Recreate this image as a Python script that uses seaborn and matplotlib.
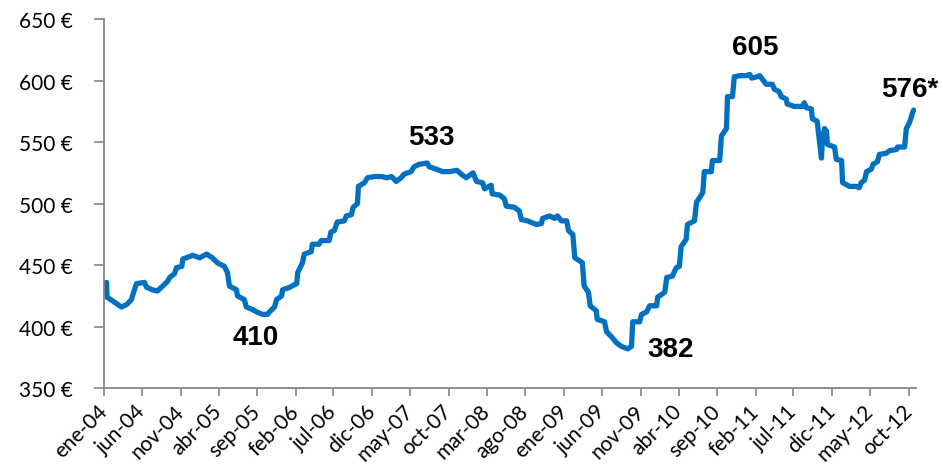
import matplotlib
matplotlib.use("Agg")
import matplotlib.pyplot as plt
import numpy as np
import pandas as pd
import seaborn as sns

# Weekly price series, Jan 2004 - Oct 2012 (EUR)
fechas = [
    "2004-01-12", "2004-01-14", "2004-02-05", "2004-03-11", "2004-04-01", "2004-04-20",
    "2004-04-24", "2004-05-10", "2004-06-11", "2004-06-19", "2004-07-12", "2004-08-01",
    "2004-08-22", "2004-09-11", "2004-09-19", "2004-10-08", "2004-10-16", "2004-11-06",
    "2004-11-10", "2004-12-07", "2004-12-19", "2005-01-16", "2005-02-13", "2005-03-07",
    "2005-03-27", "2005-04-24", "2005-05-06", "2005-05-14", "2005-06-11", "2005-06-15",
    "2005-07-12", "2005-07-20", "2005-08-13", "2005-08-30", "2005-09-22", "2005-10-12",
    "2005-10-20", "2005-11-09", "2005-11-17", "2005-12-07", "2005-12-11", "2006-01-08",
    "2006-02-05", "2006-02-09", "2006-02-28", "2006-03-07", "2006-04-04", "2006-04-08",
    "2006-05-05", "2006-05-13", "2006-06-14", "2006-06-21", "2006-07-04", "2006-07-16",
    "2006-08-13", "2006-08-21", "2006-09-10", "2006-09-17", "2006-10-04", "2006-10-08",
    "2006-11-01", "2006-11-13", "2006-12-10", "2007-01-08", "2007-01-28", "2007-02-17",
    "2007-03-07", "2007-03-26", "2007-04-08", "2007-05-05", "2007-05-17", "2007-06-07",
    "2007-07-08", "2007-07-16", "2007-08-13", "2007-09-07", "2007-10-04", "2007-11-03",
    "2007-11-20", "2007-12-10", "2008-01-06", "2008-01-20", "2008-02-13", "2008-02-21",
    "2008-03-18", "2008-03-22", "2008-04-20", "2008-05-09", "2008-05-17", "2008-06-18",
    "2008-07-08", "2008-07-16", "2008-08-09", "2008-09-14", "2008-10-04", "2008-10-08",
    "2008-11-05", "2008-11-25", "2008-12-06", "2008-12-22", "2009-01-12", "2009-01-19",
    "2009-02-05", "2009-02-13", "2009-03-15", "2009-03-22", "2009-04-08", "2009-04-15",
    "2009-05-09", "2009-05-13", "2009-06-11", "2009-06-19", "2009-07-12", "2009-07-28",
    "2009-08-17", "2009-09-11", "2009-09-26", "2009-10-01", "2009-10-28", "2009-11-05",
    "2009-11-25", "2009-12-07", "2010-01-04", "2010-01-08", "2010-02-05", "2010-02-13",
    "2010-03-07", "2010-03-23", "2010-04-04", "2010-04-11", "2010-05-01", "2010-05-06",
    "2010-06-03", "2010-06-11", "2010-07-06", "2010-07-12", "2010-08-09", "2010-08-13",
    "2010-09-11", "2010-09-18", "2010-10-08", "2010-10-12", "2010-11-01", "2010-11-08",
    "2010-11-29", "2010-12-26", "2011-01-08", "2011-01-16", "2011-02-05", "2011-02-17",
    "2011-02-28", "2011-03-15", "2011-04-08", "2011-04-16", "2011-05-05", "2011-05-13",
    "2011-06-02", "2011-06-06", "2011-07-04", "2011-08-05", "2011-08-13", "2011-08-21",
    "2011-09-10", "2011-09-14", "2011-10-03", "2011-10-20", "2011-10-24", "2011-11-01",
    "2011-11-09", "2011-11-13", "2011-12-11", "2011-12-18", "2012-01-08", "2012-01-12",
    "2012-02-09", "2012-03-06", "2012-03-18", "2012-03-26", "2012-04-08", "2012-04-16",
    "2012-05-05", "2012-05-12", "2012-05-29", "2012-06-06", "2012-07-04", "2012-07-16",
    "2012-08-13", "2012-08-17", "2012-09-14", "2012-09-21", "2012-10-04", "2012-10-16",
    "2012-10-20",
]
precios = [
    436, 424, 421, 416, 418, 422,
    425, 435, 436, 432, 430, 429,
    433, 437, 440, 443, 448, 449,
    455, 457, 458, 456, 459, 456,
    452, 449, 444, 433, 430, 425,
    422, 416, 414, 412, 410, 410,
    412, 416, 422, 425, 430, 432,
    435, 444, 452, 459, 461, 467,
    467, 470, 470, 477, 478, 485,
    486, 490, 491, 497, 500, 514,
    517, 521, 522, 522, 521, 522,
    518, 521, 524, 526, 530, 532,
    533, 530, 528, 526, 526, 527,
    524, 521, 525, 518, 517, 512,
    515, 508, 507, 504, 498, 497,
    494, 487, 486, 483, 484, 488,
    490, 488, 490, 486, 486, 478,
    475, 456, 452, 433, 428, 417,
    413, 406, 404, 396, 391, 387,
    384, 382, 384, 404, 404, 410,
    412, 417, 417, 424, 428, 440,
    441, 448, 449, 465, 471, 483,
    486, 501, 509, 526, 526, 535,
    535, 555, 561, 587, 587, 603,
    604, 604, 605, 602, 603, 604,
    601, 597, 597, 593, 591, 587,
    585, 581, 579, 579, 582, 578,
    577, 569, 567, 537, 552, 561,
    559, 548, 546, 536, 535, 517,
    514, 514, 513, 517, 519, 526,
    528, 532, 534, 540, 541, 543,
    544, 546, 546, 561, 566, 574,
    576,
]

# Highlighted values: (date, value, label, offset in points)
destacados_fecha = ["2005-09-22", "2007-07-08", "2009-09-11", "2011-01-08", "2012-10-20"]
destacados_valor = [410, 533, 382, 605, 576]
destacados_texto = ["410", "533", "382", "605", "576*"]
destacados_desp = [(-5, -16), (3, 19), (31, 0), (4, 20), (-3, 15)]

meses_es = ["ene", "feb", "mar", "abr", "may", "jun",
            "jul", "ago", "sep", "oct", "nov", "dic"]

df = pd.DataFrame({"fecha": pd.to_datetime(fechas), "precio": precios})

sns.set_style("ticks")
plt.rcParams["font.family"] = ["Lato", "DejaVu Sans"]

fig = plt.figure(figsize=(9.43, 4.77), dpi=100)
ax = fig.add_axes([0.110, 0.184, 0.861, 0.774])

azul = "#0070C0"
sns.lineplot(data=df, x="fecha", y="precio", ax=ax, color=azul,
             linewidth=3.8, solid_joinstyle="round", solid_capstyle="round")

ax.set_ylim(350, 650)
ax.set_yticks(np.arange(350, 651, 50))
ax.set_yticklabels([f"{v} €" for v in range(350, 651, 50)])

ax.set_xlim(pd.Timestamp("2004-01-01"), pd.Timestamp("2012-10-28"))
ticks = pd.date_range("2004-01-01", "2012-10-01", freq="5MS")
ax.set_xticks(ticks)
ax.set_xticklabels([f"{meses_es[t.month - 1]}-{t.year % 100:02d}" for t in ticks],
                   rotation=45, ha="right", va="center", rotation_mode="anchor")

gris = "#868686"
for s in ["top", "right"]:
    ax.spines[s].set_visible(False)
for s in ["left", "bottom"]:
    ax.spines[s].set_color(gris)
    ax.spines[s].set_linewidth(1.3)
ax.tick_params(axis="y", length=7, width=1.2, color=gris, labelsize=15, pad=15,
               labelcolor="black")
ax.tick_params(axis="x", length=6, width=1.2, color=gris, labelsize=15, pad=8,
               labelcolor="black")
ax.set_xlabel("")
ax.set_ylabel("")

for f, v, t, d in zip(destacados_fecha, destacados_valor, destacados_texto, destacados_desp):
    ax.annotate(t, xy=(pd.Timestamp(f), v), xytext=d, textcoords="offset points",
                ha="center", va="center", fontsize=20, fontweight="bold",
                family=["Liberation Sans", "DejaVu Sans"], color="black")

fig.savefig("out.png", dpi=100)
